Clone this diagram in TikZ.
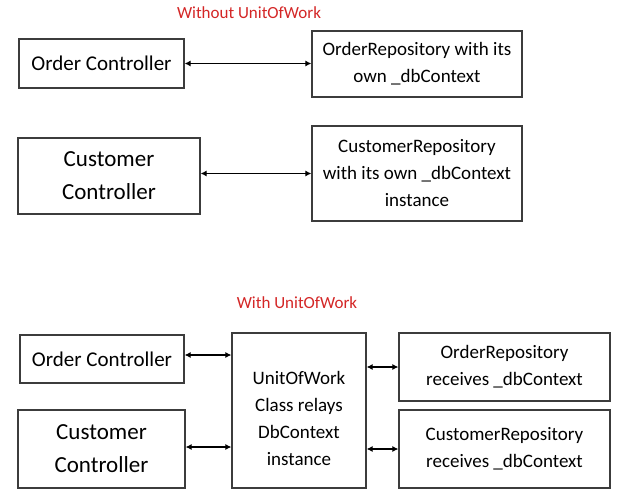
\documentclass[tikz,border=0pt]{standalone}
\usepackage{fontspec}
\setmainfont{Carlito}
\usetikzlibrary{arrows.meta}
\definecolor{titlered}{RGB}{212,38,38}
\definecolor{boxline}{RGB}{60,60,60}
\tikzset{
  box/.style={draw=boxline, line width=1.2pt, inner sep=0pt, align=center,
              minimum width=#1},
  ctrl/.style={font=\fontsize{21}{33}\selectfont},
  ctrlbig/.style={font=\fontsize{23}{33}\selectfont},
  repo/.style={font=\fontsize{19}{27}\selectfont},
  heading/.style={text=titlered, font=\fontsize{17}{20}\selectfont},
  link/.style={draw=black, line width=1.1pt,
               {Latex[length=6pt,width=6pt]}-{Latex[length=6pt,width=6pt]}}
}
\begin{document}
\begin{tikzpicture}[x=1pt, y=-1pt]
  \useasboundingbox[fill=white] (0,0) rectangle (622,499);

  % ---- without a unit of work ----
  \node[heading] (t1) at (249,13) {Without UnitOfWork};

  \node[box=165pt, minimum height=49pt, ctrl] (oc1) at (101.5,63.5) {Order Controller};
  \node[box=210pt, minimum height=66pt, repo] (or1) at (417,64)
       {OrderRepository with its\\own \_dbContext};
  \node[box=182pt, minimum height=76pt, ctrlbig] (cc1) at (109,176)
       {Customer\\Controller};
  \node[box=210pt, minimum height=95pt, repo] (cr1) at (417,173.5)
       {CustomerRepository\\with its own \_dbContext\\instance};

  \draw[link] (oc1.east) -- (oc1.east -| or1.west);
  \draw[link] (cc1.east |- cr1.west) -- (cr1.west);

  % ---- with a unit of work ----
  \node[heading] (t2) at (297,303) {With UnitOfWork};

  \node[box=164pt, minimum height=48pt, ctrl] (oc2) at (102,359) {Order Controller};
  \node[box=167pt, minimum height=78pt, ctrlbig] (cc2) at (101.5,449)
       {Customer\\Controller};
  \node[box=134pt, minimum height=155pt] (uow) at (299,410.5) {};
  \node[repo, align=center] (uowtext) at (299,418)
       {UnitOfWork\\Class relays\\DbContext\\instance};
  \node[box=211pt, minimum height=68pt, repo] (or2) at (504.5,367)
       {OrderRepository\\receives \_dbContext};
  \node[box=211pt, minimum height=78pt, repo] (cr2) at (504.5,449)
       {CustomerRepository\\receives \_dbContext};

  \draw[link] ([yshift=4pt]oc2.east) -- ([yshift=4pt]oc2.east -| uow.west);
  \draw[link] ([yshift=2pt]cc2.east) -- ([yshift=2pt]cc2.east -| uow.west);
  \draw[link] (or2.west -| uow.east) -- (or2.west);
  \draw[link] (cr2.west -| uow.east) -- (cr2.west);
\end{tikzpicture}
\end{document}
